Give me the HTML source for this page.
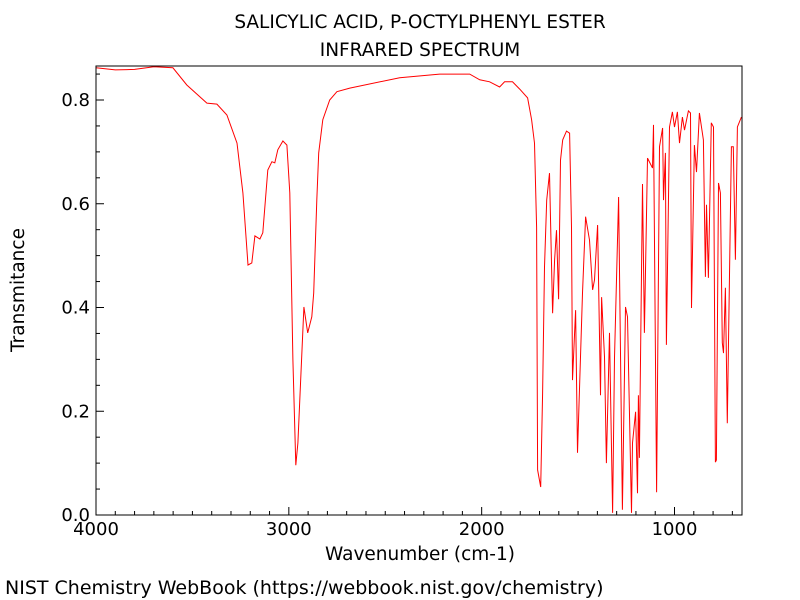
<!DOCTYPE html>
<html><head><meta charset="utf-8"><style>
body{margin:0;background:#fff;width:800px;height:600px;overflow:hidden}
svg{display:block;font-family:"DejaVu Sans","Liberation Sans",sans-serif}
</style></head><body>
<svg id="chart" width="800" height="600">
<text x="420" y="28" text-anchor="middle" font-size="18.5">SALICYLIC ACID, P-OCTYLPHENYL ESTER</text>
<text x="420" y="56" text-anchor="middle" font-size="18.5">INFRARED SPECTRUM</text>
<text x="420" y="560" text-anchor="middle" font-size="18.5">Wavenumber (cm-1)</text>
<text transform="translate(24,290) rotate(-90)" text-anchor="middle" font-size="18.5">Transmitance</text>
<text x="5" y="594" font-size="19">NIST Chemistry WebBook (https://webbook.nist.gov/chemistry)</text>
<g id="ticks"></g>
<path id="spec" fill="none" stroke="#ff0000" stroke-width="1"></path>
<rect x="96" y="66" width="646" height="449" fill="none" stroke="#000" stroke-width="1"></rect>
</svg>
<script>
const wavenumbers=[4000,3900,3800,3700,3601,3529,3425,3373,3321,3269,3238,3212,3192,3176,3150,3135,3109,3088,3073,3057,3031,3010,2995,2979,2964,2953,2938,2922,2902,2881,2871,2855,2845,2824,2788,2751,2684,2425,2218,2062,2010,1959,1907,1881,1840,1803,1762,1741,1726,1715,1710,1694,1684,1674,1663,1648,1632,1622,1612,1601,1591,1580,1560,1544,1534,1529,1513,1503,1477,1461,1441,1425,1415,1399,1384,1378,1363,1353,1337,1321,1311,1290,1270,1254,1244,1223,1218,1202,1192,1187,1182,1166,1156,1140,1114,1109,1093,1078,1062,1057,1047,1042,1026,1011,1000,985,974,959,948,928,917,912,897,886,871,850,840,834,824,809,798,788,783,772,762,752,746,736,726,705,695,684,674,653];
const transmittance=[0.862,0.858,0.859,0.864,0.862,0.829,0.794,0.792,0.771,0.717,0.621,0.482,0.486,0.538,0.532,0.544,0.665,0.681,0.679,0.704,0.721,0.713,0.621,0.299,0.096,0.139,0.266,0.401,0.351,0.382,0.428,0.607,0.698,0.762,0.800,0.816,0.823,0.843,0.850,0.850,0.839,0.835,0.825,0.835,0.835,0.821,0.804,0.762,0.717,0.555,0.087,0.054,0.235,0.478,0.607,0.659,0.389,0.492,0.549,0.416,0.684,0.723,0.740,0.736,0.555,0.260,0.395,0.120,0.428,0.575,0.530,0.434,0.453,0.559,0.231,0.420,0.305,0.100,0.351,0.004,0.303,0.613,0.010,0.401,0.382,0.004,0.139,0.199,0.042,0.231,0.110,0.638,0.351,0.688,0.669,0.752,0.044,0.710,0.746,0.607,0.698,0.328,0.748,0.777,0.748,0.777,0.717,0.767,0.742,0.779,0.775,0.399,0.713,0.661,0.775,0.723,0.459,0.598,0.457,0.756,0.748,0.102,0.106,0.640,0.621,0.332,0.312,0.438,0.177,0.710,0.710,0.492,0.748,0.767];
const xTickValues=[4000,3000,2000,1000];
const xTickLabels=["4000","3000","2000","1000"];
const yTickValues=[0,0.2,0.4,0.6,0.8];
const yTickLabels=["0.0","0.2","0.4","0.6","0.8"];
const X0=96,X1=742,Y0=515,Y1=66;
function xs(w){return X0+(4000-w)*(X1-X0)/3350;}
function ys(t){return Y0-t*518.75;}
const NS="http://www.w3.org/2000/svg";
let d="";
for(let i=0;i<wavenumbers.length;i++){d+=(i?"L":"M")+xs(wavenumbers[i]).toFixed(1)+","+ys(transmittance[i]).toFixed(1);}
document.getElementById("spec").setAttribute("d",d);
const g=document.getElementById("ticks");
function line(x1,y1,x2,y2,name){const l=document.createElementNS(NS,"line");l.setAttribute("x1",x1);l.setAttribute("y1",y1);l.setAttribute("x2",x2);l.setAttribute("y2",y2);l.setAttribute("stroke","#000");


g.appendChild(l);}
function text(x,y,s,anchor,name){const t=document.createElementNS(NS,"text");t.setAttribute("x",x);t.setAttribute("y",y);t.setAttribute("text-anchor",anchor);t.setAttribute("font-size","18");t.textContent=s;


g.appendChild(t);}
for(let w=4000;w>=700;w-=100){const x=xs(w);const major=w%1000===0;line(x,Y0,x,Y0-(major?8:4),major?"x-major-tick":"x-minor-tick");}
for(let v=0;v<=0.851;v+=0.05){const y=ys(v);const major=Math.abs(v*10-Math.round(v*10))<0.01&&Math.round(v*10)%2===0;line(X0,y,X0+(major?8:4),y,major?"y-major-tick":"y-minor-tick");}
xTickValues.forEach((v,i)=>text(xs(v),535,xTickLabels[i],"middle","x-tick-label"));
yTickValues.forEach((v,i)=>text(X0-6,ys(v)+6,yTickLabels[i],"end","y-tick-label"));
</script>
</body></html>
